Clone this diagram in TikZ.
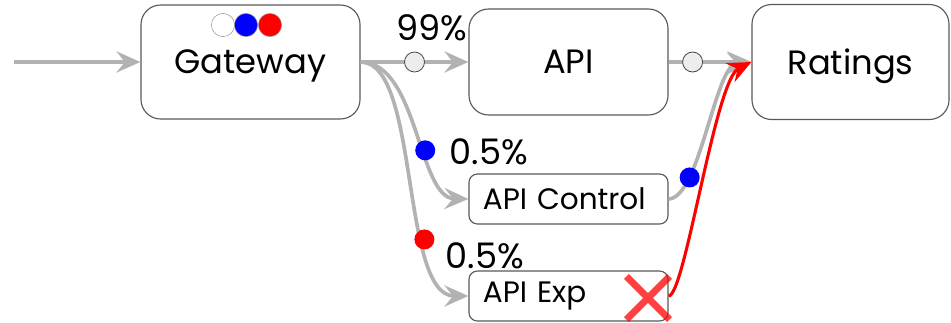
\documentclass[tikz,border=0pt]{standalone}
\usepackage{fontspec}
\setmainfont{Poppins}
\usetikzlibrary{arrows.meta}
\usetikzlibrary{shapes.misc}

\begin{document}
\begin{tikzpicture}[x=0.025cm,y=-0.025cm,
  svc/.style={draw=black!65,line width=0.8pt,rounded corners=14pt,fill=white,
    font=\fontsize{24}{28}\selectfont,text depth=0pt},
  ver/.style={draw=black!65,line width=0.8pt,rounded corners=6pt,fill=white,
    font=\fontsize{21}{25}\selectfont,align=left,text width=4.275cm,
    inner xsep=0.35cm,minimum height=1.25cm},
  flow/.style={draw=black!30,line width=2.6pt,
    -{Stealth[length=17pt,width=15pt,inset=6pt]}},
  bad/.style={draw=red,line width=2.2pt,
    -{Stealth[length=17pt,width=15pt,inset=6pt]}},
  tok/.style={circle,draw=black!70,line width=0.6pt,fill=black!7,
    inner sep=0pt,minimum size=0.5cm},
  ctok/.style={circle,fill=blue,inner sep=0pt,minimum size=0.5cm},
  etok/.style={circle,fill=red,inner sep=0pt,minimum size=0.5cm},
  pct/.style={font=\fontsize{25}{29}\selectfont}]
  \useasboundingbox (0,0) rectangle (951,322);

  % services
  \node[svc,minimum width=5.475cm,minimum height=2.85cm] (gw) at (250.5,62) {Gateway};
  \node[svc,minimum width=4.975cm,minimum height=2.65cm] (api) at (568.5,62) {API};
  \node[svc,minimum width=4.925cm,minimum height=2.875cm] (rat) at (850.5,62) {Ratings};
  \node[ver] (ctl) at (568.5,199) {API Control};
  \node[ver] (exp) at (568.5,296) {API Exp};

  % request colours
  \node[circle,draw=black!40,fill=white,inner sep=0pt,minimum size=0.58cm] (w0) at (223,25) {};
  \node[circle,draw=black!40,fill=blue,inner sep=0pt,minimum size=0.58cm] (b0) at (246,25) {};
  \node[circle,draw=black!40,fill=red,inner sep=0pt,minimum size=0.58cm] (r0) at (270,25) {};

  \coordinate (in) at (14,62);
  \draw[flow] (in) -- (gw.west);

  \draw[flow] (gw.east) -- node[tok] (t1) {} (api.west);
  \draw[flow] (api.east) -- node[tok,pos=0.29] (t2) {} (rat.west);
  \node[pct] (p99) at (432,28) {99\%};

  \draw[flow] (gw.east) .. controls (418,62) and (418,198) .. (ctl.west)
    node[ctok,pos=0.6] (c1) {};
  \node[pct] (pc) at (489,152) {0.5\%};
  \draw[flow] (gw.east) .. controls (420,62) and (400,296) .. (exp.west)
    node[etok,pos=0.68] (e1) {};
  \node[pct] (pe) at (485,256) {0.5\%};

  \draw[flow] (ctl.east) .. controls (700,198) and (715,64) .. (rat.west)
    node[ctok,pos=0.25] (c2) {};
  \draw[bad] (exp.east) .. controls (685,296) and (715,80) .. (rat.west);

  % failed call
  \node[cross out,draw=red,opacity=0.75,line width=5pt,inner sep=0pt,
    minimum width=0.9cm,minimum height=0.9cm] (fail) at (648,298) {};
\end{tikzpicture}
\end{document}
